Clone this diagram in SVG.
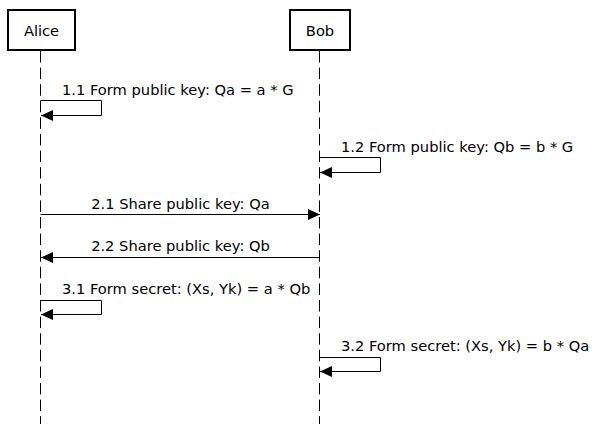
<svg xmlns="http://www.w3.org/2000/svg" width="598" height="424" viewBox="0 0 598 424">
<style>
text{font-family:"DejaVu Sans",sans-serif;font-size:14.67px;fill:#000}
.box{fill:#fff;stroke:#000;stroke-width:2}
.life{stroke:#000;stroke-width:1;stroke-dasharray:11.5 5.1;fill:none}
.msg{stroke:#000;stroke-width:1;fill:none}
</style>
<defs>
<marker id="ah" markerWidth="12" markerHeight="11" refX="12" refY="5.5" orient="auto" markerUnits="userSpaceOnUse">
<path d="M0,0 L12,5.5 L0,11 Z" fill="#000"/>
</marker>
</defs>
<rect width="598" height="424" fill="#fff"/>
<g id="lifelines">
<line class="life" x1="40.5" y1="51" x2="40.5" y2="424"/>
<line class="life" x1="319.5" y1="51" x2="319.5" y2="424"/>
</g>
<g id="alice">
<rect class="box" x="8" y="10" width="67" height="40"/>
<text x="41.5" y="36" text-anchor="middle">Alice</text>
</g>
<g id="bob">
<rect class="box" x="290" y="10" width="60" height="40"/>
<text x="320" y="36" text-anchor="middle">Bob</text>
</g>
<g id="connectors">
<polyline class="msg" points="40.5,100.5 101.5,100.5 101.5,115.5 41,115.5" marker-end="url(#ah)"/>
<text x="62" y="95">1.1 Form public key: Qa = a * G</text>
<polyline class="msg" points="319.5,157.5 380.5,157.5 380.5,172.5 320,172.5" marker-end="url(#ah)"/>
<text x="341" y="152">1.2 Form public key: Qb = b * G</text>
<line class="msg" x1="40.5" y1="214.5" x2="320" y2="214.5" marker-end="url(#ah)"/>
<text x="180.5" y="209" text-anchor="middle">2.1 Share public key: Qa</text>
<line class="msg" x1="319.5" y1="257.5" x2="41" y2="257.5" marker-end="url(#ah)"/>
<text x="180.5" y="251" text-anchor="middle">2.2 Share public key: Qb</text>
<polyline class="msg" points="40.5,300.5 101.5,300.5 101.5,314.5 41,314.5" marker-end="url(#ah)"/>
<text x="62" y="294">3.1 Form secret: (Xs, Yk) = a * Qb</text>
<polyline class="msg" points="319.5,357.5 380.5,357.5 380.5,371.5 320,371.5" marker-end="url(#ah)"/>
<text x="341" y="351">3.2 Form secret: (Xs, Yk) = b * Qa</text>
</g>
</svg>
